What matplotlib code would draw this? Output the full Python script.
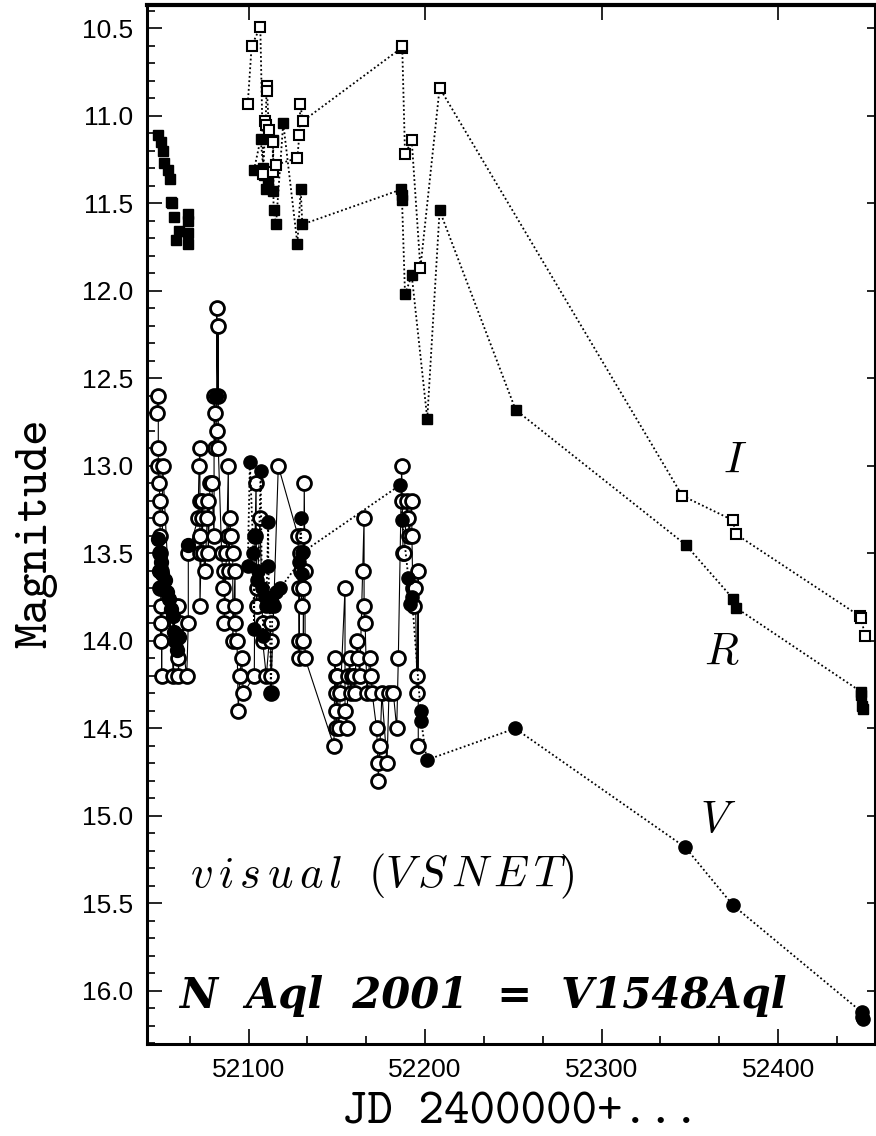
import numpy as np
import matplotlib
matplotlib.use('Agg')
import matplotlib.pyplot as plt
from matplotlib.ticker import MultipleLocator, FormatStrFormatter

# visual estimates (VSNET), open circles
vis_jd = [52047.9, 52048.8, 52048.8, 52048.8, 52049.2, 52049.8, 52049.8, 52049.8, 52049.8, 52050.0,
          52050.2, 52050.2, 52050.4, 52050.6, 52050.7, 52051.3, 52057.3, 52058.5, 52059.0, 52060.0,
          52060.2, 52060.2, 52061.1, 52064.9, 52065.8, 52065.8,
          52071.3, 52071.9, 52072.4, 52072.4, 52072.4, 52072.4, 52072.4, 52073.5, 52073.5, 52074.3,
          52075.3, 52076.5, 52077.1, 52077.1, 52078.1, 52079.1, 52080.4, 52080.4, 52081.0, 52081.0,
          52081.9, 52081.9, 52082.5, 52082.8, 52082.8,
          52084.7, 52085.7, 52086.0, 52086.2, 52086.2, 52087.4, 52088.5, 52088.5, 52089.0, 52089.4,
          52090.0, 52091.0, 52091.0, 52092.3, 52092.3, 52092.3, 52093.4, 52094.1, 52095.0, 52096.0,
          52097.0, 52103.2, 52103.6, 52104.2, 52104.5, 52104.9, 52106.4, 52107.9, 52107.9, 52110.0,
          52112.5, 52112.5, 52112.5, 52112.6, 52116.8,
          52128.0, 52128.3, 52128.6, 52128.6, 52129.0, 52129.5, 52130.0, 52131.0, 52131.0, 52131.0,
          52131.5, 52131.9, 52132.0,
          52148.3, 52148.9, 52149.3, 52149.3, 52149.6, 52149.6, 52150.2, 52151.0, 52152.0, 52154.6,
          52154.6, 52155.5, 52156.5, 52157.4, 52157.8, 52158.5, 52159.5, 52160.0, 52161.2, 52162.1,
          52163.0, 52164.6, 52165.4, 52165.4, 52166.0, 52167.0, 52168.7, 52169.5, 52170.0, 52172.5,
          52173.3, 52173.4, 52174.4, 52175.5, 52178.4, 52179.5, 52182.0, 52183.9, 52184.8,
          52186.7, 52187.0, 52187.5, 52188.3, 52189.5, 52190.4, 52191.0, 52192.4, 52192.5, 52193.0,
          52193.5, 52194.5, 52195.2, 52195.6, 52196.1, 52196.1]
vis_mag = [12.7, 12.6, 12.9, 13.0, 13.1, 13.2, 13.3, 13.4, 13.5, 13.7,
           13.6, 14.0, 13.8, 13.9, 14.2, 13.0, 14.2, 13.8, 13.9, 13.8,
           14.1, 14.2, 13.9, 14.2, 13.9, 13.5,
           13.3, 13.0, 12.9, 13.2, 13.4, 13.5, 13.8, 13.3, 13.2, 13.5,
           13.6, 13.3, 13.2, 13.5, 13.1, 13.1, 13.4, 12.6, 12.7, 12.9,
           12.8, 12.1, 12.6, 12.2, 12.9,
           13.5, 13.7, 13.6, 13.8, 13.9, 13.5, 13.0, 13.4, 13.6, 13.3,
           13.4, 13.5, 14.0, 13.6, 13.8, 13.9, 14.0, 14.4, 14.2, 14.1,
           14.3, 14.2, 13.4, 13.1, 13.8, 13.7, 13.3, 13.9, 14.0, 14.2,
           13.9, 14.0, 14.2, 14.3, 13.0,
           13.4, 13.7, 14.0, 14.1, 13.5, 13.6, 13.8, 13.4, 13.7, 14.0,
           13.1, 13.6, 14.1,
           14.6, 14.1, 14.2, 14.3, 14.4, 14.5, 14.2, 14.5, 14.3, 13.7,
           14.4, 14.5, 14.2, 14.1, 14.3, 14.2, 14.2, 14.3, 14.0, 14.1,
           14.2, 13.6, 13.3, 13.8, 13.9, 14.3, 14.1, 14.2, 14.3, 14.5,
           14.7, 14.8, 14.6, 14.3, 14.7, 14.3, 14.3, 14.5, 14.1,
           13.0, 13.2, 13.5, 13.5, 13.2, 13.3, 13.4, 13.2, 13.4, 13.7,
           13.8, 13.7, 14.2, 14.3, 13.6, 14.6]

# V CCD, filled circles
V_early_jd = [52048.5, 52049.0, 52049.5, 52050.0, 52050.5, 52051.0, 52052.5, 52053.5, 52055.0, 52056.0,
              52057.0, 52057.5, 52058.5, 52059.5, 52060.5, 52065.8, 52081.3]
V_early_mag = [13.42, 13.60, 13.50, 13.70, 13.55, 13.62, 13.65, 13.72, 13.76, 13.82,
               13.86, 13.95, 14.00, 14.05, 13.98, 13.45, 12.60]
V_jd = [52099.5, 52100.7, 52102.7, 52103.0, 52103.6, 52104.5, 52105.5, 52106.8, 52107.5, 52108.3,
        52109.0, 52110.0, 52111.1, 52111.1, 52112.0, 52112.6, 52113.5, 52114.5, 52115.6, 52117.8,
        52128.8, 52129.5, 52130.0, 52130.5, 52131.0, 52185.7, 52187.0, 52190.5, 52191.4, 52192.5,
        52197.4, 52197.8, 52200.9, 52251.0, 52347.5, 52374.4, 52447.3, 52447.8, 52448.3]
V_mag = [13.57, 12.98, 13.50, 13.93, 13.40, 13.65, 13.60, 13.03, 13.70, 13.97,
         13.75, 13.80, 13.32, 13.57, 13.80, 14.30, 13.78, 13.80, 13.72, 13.70,
         13.55, 13.30, 13.50, 13.62, 13.49, 13.11, 13.31, 13.64, 13.79, 13.75,
         14.40, 14.46, 14.68, 14.50, 15.18, 15.51, 16.12, 16.15, 16.16]

# R CCD, filled squares
R_early_jd = [52048.8, 52050.2, 52051.6, 52052.0, 52054.5, 52055.4, 52056.0, 52056.7, 52057.7, 52058.8,
              52060.7, 52065.8, 52065.8, 52065.8, 52065.8]
R_early_mag = [11.11, 11.15, 11.20, 11.27, 11.31, 11.36, 11.49, 11.50, 11.58, 11.71,
               11.66, 11.56, 11.60, 11.67, 11.73]
R_jd = [52103.0, 52106.8, 52108.3, 52108.9, 52109.8, 52110.8, 52113.6, 52113.9, 52114.1, 52115.5,
        52119.6, 52127.6, 52129.5, 52130.4, 52186.5, 52186.7, 52186.9, 52188.6, 52192.4, 52201.2,
        52208.2, 52251.3, 52347.6, 52374.6, 52376.1, 52447.0, 52447.2, 52447.6, 52447.9]
R_mag = [11.31, 11.13, 11.30, 11.34, 11.42, 11.38, 11.43, 11.14, 11.54, 11.62,
         11.04, 11.73, 11.42, 11.62, 11.42, 11.45, 11.48, 12.02, 11.91, 12.73,
         11.54, 12.68, 13.45, 13.76, 13.81, 14.29, 14.31, 14.37, 14.39]

# I CCD, open squares
I_jd = [52099.5, 52101.7, 52106.6, 52108.3, 52109.4, 52109.6, 52110.2, 52110.4, 52111.5, 52113.6,
        52113.8, 52115.3, 52127.6, 52128.7, 52129.3, 52130.6, 52186.8, 52187.0, 52188.6, 52192.4,
        52197.3, 52208.2, 52345.7, 52374.3, 52376.1, 52446.6, 52447.0, 52449.3]
I_mag = [10.93, 10.60, 10.49, 11.33, 11.03, 11.05, 10.83, 10.86, 11.08, 11.15,
         11.32, 11.28, 11.24, 11.11, 10.93, 11.03, 10.61, 10.60, 11.22, 11.14,
         11.87, 10.84, 13.17, 13.31, 13.39, 13.86, 13.87, 13.97]

fig = plt.figure(figsize=(8.76, 11.36), dpi=100)
ax = fig.add_axes([147/876, 1-1044/1136, 728/876, 1039/1136])

dots = (1, 1.4)
ax.plot(vis_jd, vis_mag, '-', color='black', lw=0.8, zorder=2)
ax.plot(vis_jd, vis_mag, 'o', mfc='white', mec='black', ms=10, mew=2, zorder=3)
ax.plot(V_early_jd, V_early_mag, 'o', color='black', ms=10, zorder=4)
ax.plot(V_jd, V_mag, 'o', color='black', ms=9.5, ls=(0, dots), lw=1.3, zorder=4)
ax.plot(R_early_jd, R_early_mag, 's', color='black', ms=7, zorder=5)
ax.plot(R_jd, R_mag, 's', color='black', ms=6.5, ls=(0, dots), lw=1.3, zorder=5)
ax.plot(I_jd, I_mag, 's', mfc='white', mec='black', ms=7, mew=1.5, ls=(0, dots), lw=1.3, color='black', zorder=6)

ax.set_xlim(52042.4, 52454.9)
ax.set_ylim(16.303, 10.366)

ax.xaxis.set_major_locator(MultipleLocator(100))
ax.xaxis.set_minor_locator(MultipleLocator(100/3))
ax.yaxis.set_major_locator(MultipleLocator(0.5))
ax.yaxis.set_minor_locator(MultipleLocator(0.1))
ax.yaxis.set_major_formatter(FormatStrFormatter('%.1f'))
ax.tick_params(which='major', direction='in', length=11, width=1.2, top=True, right=False,
               labelsize=19, pad=10)
ax.tick_params(which='minor', direction='in', length=5.5, width=1.2, top=False, right=False)
for lab in ax.get_xticklabels() + ax.get_yticklabels():
    lab.set_fontfamily('Liberation Sans')

sec = ax.secondary_yaxis('right')
sec.yaxis.set_major_locator(MultipleLocator(0.5))
sec.tick_params(direction='in', length=6, width=1.2, labelright=False)
sec.spines['right'].set_visible(False)

for s in ax.spines.values():
    s.set_linewidth(2.2)
ax.spines['top'].set_linewidth(3)

fig.text(36/876, 1-533/1136, 'Magnitude', family='cmtt10', fontsize=35, rotation=90,
         ha='center', va='center')
fig.text(521/876, 1-1113/1136, 'JD 2400000+...', family='cmtt10', fontsize=35,
         ha='center', va='center')

ax.text(52375.5, 12.97, r'$I$', math_fontfamily='cm', fontsize=32, ha='center', va='center')
ax.text(52368.2, 14.06, r'$R$', math_fontfamily='cm', fontsize=32, ha='center', va='center')
ax.text(52365.9, 15.02, r'$V$', math_fontfamily='cm', fontsize=32, ha='center', va='center')
ax.text(52066.8, 15.406, r'$v\,i\,s\,u\,a\,l\ \ (V\,S\,N\,E\,T)$', math_fontfamily='cm',
        fontsize=32, ha='left', va='baseline')
ax.text(52060.5, 16.097, 'N  Aql  2001  =  V1548Aql', family='DejaVu Serif', style='italic',
        weight='bold', fontsize=30, ha='left', va='baseline')

plt.savefig('out.png', dpi=100)
